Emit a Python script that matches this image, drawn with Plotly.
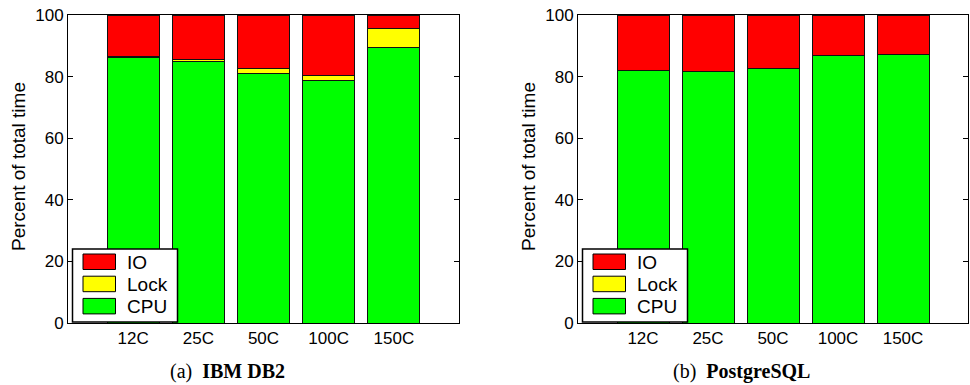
import plotly.graph_objects as go

categories = ["12C", "25C", "50C", "100C", "150C"]
db2_cpu = [86.2, 85.0, 81.1, 78.6, 89.3]
db2_lock = [0.4, 0.6, 1.4, 1.6, 6.3]
db2_io = [13.4, 14.4, 17.5, 19.8, 4.4]
pg_cpu = [82.1, 81.7, 82.5, 86.9, 87.2]
pg_lock = [0.0, 0.0, 0.0, 0.0, 0.0]
pg_io = [17.9, 18.3, 17.5, 13.1, 12.8]
series_names = ["IO", "Lock", "CPU"]
series_colors = {"IO": "#ff0000", "Lock": "#ffff00", "CPU": "#00ff00"}
y_ticks = [0, 20, 40, 60, 80, 100]
subtitles = [("(a)", "IBM DB2"), ("(b)", "PostgreSQL")]
y_title = "Percent of total time"

W, H = 970, 385


def px(x):
    return x / W


def py(y):
    return 1 - y / H


fig = go.Figure()
panels = [(db2_cpu, db2_lock, db2_io, "x", "y"), (pg_cpu, pg_lock, pg_io, "x2", "y2")]
for cpu, lock, io, xa, ya in panels:
    for name, vals in (("CPU", cpu), ("Lock", lock), ("IO", io)):
        fig.add_trace(go.Bar(
            x=categories, y=vals, name=name, xaxis=xa, yaxis=ya,
            marker=dict(color=series_colors[name], line=dict(color="#111111", width=1)),
            showlegend=False, hoverinfo="x+y+name",
        ))

sans = "Liberation Sans, Arial, sans-serif"
axis_font = dict(family=sans, size=17, color="black")
common_x = dict(type="category", range=[-1, 5], showline=True, mirror=True, linecolor="black",
                linewidth=1, ticks="", showgrid=False, zeroline=False, tickfont=axis_font,
                automargin=False, ticklabeloverflow="allow")
common_y = dict(range=[0, 100], tickvals=y_ticks, showline=True, mirror="allticks", linecolor="black",
                linewidth=1, ticks="inside", ticklen=5, tickcolor="black", showgrid=False,
                zeroline=False, tickfont=axis_font, automargin=False, ticklabeloverflow="allow")

left_dom = [px(68), px(459)]
right_dom = [px(578), px(968)]
ydom = [py(323), py(15)]

fig.update_layout(
    width=W, height=H, margin=dict(l=0, r=0, t=0, b=0, autoexpand=False),
    paper_bgcolor="white", plot_bgcolor="white",
    barmode="stack", bargap=0.2,
    xaxis=dict(domain=left_dom, anchor="y", **common_x),
    yaxis=dict(domain=ydom, anchor="x", **common_y),
    xaxis2=dict(domain=right_dom, anchor="y2", **common_x),
    yaxis2=dict(domain=ydom, anchor="x2", **common_y),
    showlegend=False,
)

shapes = []
annotations = []
for (lab, name), ax_left, cx in zip(subtitles, (68, 578), (227, 741)):
    bx0 = ax_left + 4.5
    bx1 = bx0 + 105
    by0, by1 = 249, 322
    shapes.append(dict(type="rect", xref="paper", yref="paper", x0=px(bx0), x1=px(bx1),
                       y0=py(by1), y1=py(by0), line=dict(color="black", width=1.5), fillcolor="white", layer="above"))
    for i, s in enumerate(series_names):
        top = 254 + i * 22.2
        shapes.append(dict(type="rect", xref="paper", yref="paper", x0=px(bx0 + 10.5), x1=px(bx0 + 43),
                           y0=py(top + 15.5), y1=py(top), line=dict(color="black", width=1),
                           fillcolor=series_colors[s], layer="above"))
        annotations.append(dict(text=s, xref="paper", yref="paper", x=px(bx0 + 52), y=py(top + 8),
                                xanchor="left", yanchor="middle", showarrow=False,
                                font=dict(family=sans, size=19, color="black")))
    annotations.append(dict(text=y_title, xref="paper", yref="paper", x=px(ax_left - 50), y=py(167),
                            xanchor="center", yanchor="middle", showarrow=False, textangle=-90,
                            font=dict(family=sans, size=19, color="black")))
    annotations.append(dict(text=f"{lab}  <b>{name}</b>", xref="paper", yref="paper", x=px(cx), y=py(371),
                            xanchor="center", yanchor="middle", showarrow=False,
                            font=dict(family="Liberation Serif, Times New Roman, serif", size=20, color="black")))

fig.update_layout(shapes=shapes, annotations=annotations)
fig.write_html(
    "out.html",
    config={"displayModeBar": False},
    post_script="document.body.style.margin='0';document.body.style.overflow='hidden';",
)
